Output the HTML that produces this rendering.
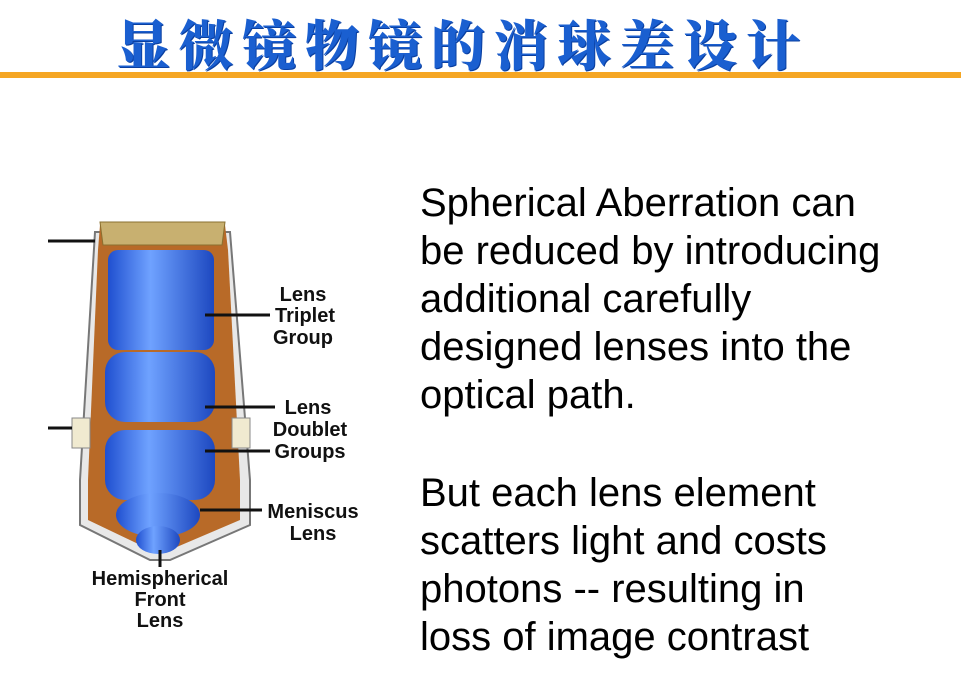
<!DOCTYPE html>
<html><head><meta charset="utf-8"><style>
body{margin:0;width:961px;height:687px;background:#fff;position:relative;overflow:hidden;font-family:"Liberation Sans",sans-serif}
#title{position:absolute;left:-18px;width:961px;top:4px;text-align:center;font-family:"Liberation Serif","Noto Serif CJK SC",serif;font-weight:900;font-size:54px;color:#1a5fd0;letter-spacing:9px;text-shadow:1px 1px 0 #0a3fa0}
#rule{position:absolute;left:0;top:72px;width:961px;height:6px;background:#f5a623}
.para{position:absolute;left:420px;font-size:40px;line-height:48px;color:#000;white-space:nowrap}
.lbl{font-family:"Liberation Sans",sans-serif;font-weight:bold;font-size:20px;fill:#111}
</style></head><body>
<div id="title">显微镜物镜的消球差设计</div>
<div id="rule"></div>
<div class="para" style="top:179px">Spherical Aberration can<br>be reduced by introducing<br>additional carefully<br>designed lenses into the<br>optical path.</div>
<div class="para" style="top:469px">But each lens element<br>scatters light and costs<br>photons -- resulting in<br>loss of image contrast</div>
<svg style="position:absolute;left:0;top:0" width="961" height="687">
<defs><linearGradient id="bl" x1="0" x2="1"><stop offset="0" stop-color="#1f4fd0"/><stop offset=".4" stop-color="#6fa2ff"/><stop offset="1" stop-color="#1d48c0"/></linearGradient></defs>
<path d="M95,232 L230,232 L250,480 L250,525 L170,560 L150,560 L80,525 L80,480 Z" fill="#e8e8e8" stroke="#777" stroke-width="2"/>
<path d="M100,225 L225,225 L228,250 L240,480 L240,520 L165,552 L155,552 L88,520 L88,480 L98,250 Z" fill="#b86a28"/>
<path d="M100,222 L225,222 L222,245 L103,245 Z" fill="#c8b070" stroke="#8a7030"/>
<rect x="108" y="250" width="106" height="100" rx="10" fill="url(#bl)"/>
<rect x="105" y="352" width="110" height="70" rx="20" fill="url(#bl)"/>
<rect x="105" y="430" width="110" height="70" rx="20" fill="url(#bl)"/>
<ellipse cx="158" cy="515" rx="42" ry="22" fill="url(#bl)"/>
<ellipse cx="158" cy="540" rx="22" ry="14" fill="url(#bl)"/>
<rect x="72" y="418" width="18" height="30" fill="#f0ead0" stroke="#888"/>
<rect x="232" y="418" width="18" height="30" fill="#f0ead0" stroke="#888"/>
<g stroke="#111" stroke-width="3">
<line x1="48" y1="241" x2="95" y2="241"/><line x1="48" y1="428" x2="72" y2="428"/>
<line x1="205" y1="315" x2="270" y2="315"/><line x1="205" y1="407" x2="275" y2="407"/>
<line x1="205" y1="451" x2="270" y2="451"/><line x1="200" y1="510" x2="262" y2="510"/>
<line x1="160" y1="550" x2="160" y2="567"/></g>
<text class="lbl" x="303" y="301" text-anchor="middle">Lens</text>
<text class="lbl" x="305" y="322" text-anchor="middle">Triplet</text>
<text class="lbl" x="303" y="344" text-anchor="middle">Group</text>
<text class="lbl" x="308" y="414" text-anchor="middle">Lens</text>
<text class="lbl" x="310" y="436" text-anchor="middle">Doublet</text>
<text class="lbl" x="310" y="458" text-anchor="middle">Groups</text>
<text class="lbl" x="313" y="518" text-anchor="middle">Meniscus</text>
<text class="lbl" x="313" y="540" text-anchor="middle">Lens</text>
<text class="lbl" x="160" y="585" text-anchor="middle">Hemispherical</text>
<text class="lbl" x="160" y="606" text-anchor="middle">Front</text>
<text class="lbl" x="160" y="627" text-anchor="middle">Lens</text>
</svg>
</body></html>
